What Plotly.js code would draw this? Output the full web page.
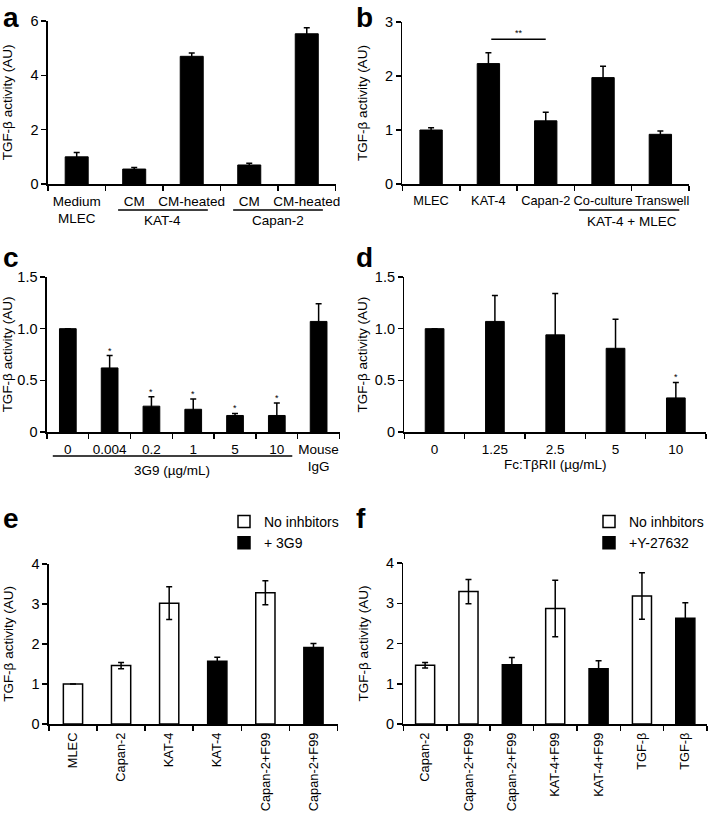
<!DOCTYPE html>
<html>
<head>
<meta charset="utf-8">
<script src="https://cdn.plot.ly/plotly-3.0.1.min.js"></script>
<style>
body { margin: 0; background: white; }
#chart { width: 709px; height: 816px; }
</style>
</head>
<body>
<div id="chart"></div>
<script>
// ---- data ----
// a
let aLabels = ['Medium<br>MLEC', 'CM', 'CM-heated', 'CM', 'CM-heated'];
let aValues = [1.0, 0.55, 4.7, 0.7, 5.53];
let aErrors = [0.16, 0.06, 0.12, 0.06, 0.22];
let aGroups = [['KAT-4', 1, 2], ['Capan-2', 3, 4]];

// b
let bLabels = ['MLEC', 'KAT-4', 'Capan-2', 'Co-culture', '\u00A0Transwell'];
let bValues = [1.0, 2.23, 1.17, 1.97, 0.92];
let bErrors = [0.04, 0.2, 0.16, 0.21, 0.06];
let bGroups = [['KAT-4 + MLEC', 3, 4]];
let bSig = [[1, 2, 2.68, '**']];

// c
let cLabels = ['0', '0.004', '0.2', '1', '5', '10', 'Mouse<br>IgG'];
let cValues = [1.0, 0.62, 0.25, 0.22, 0.16, 0.16, 1.07];
let cErrors = [0, 0.12, 0.09, 0.1, 0.02, 0.12, 0.17];
let cStars = ['', '*', '*', '*', '*', '*', ''];
let cGroups = [['3G9 (µg/mL)', 0, 5]];

// d
let dLabels = ['0', '1.25', '2.5', '5', '10'];
let dValues = [1.0, 1.07, 0.94, 0.81, 0.33];
let dErrors = [0, 0.25, 0.4, 0.28, 0.15];
let dStars = ['', '', '', '', '*'];

// e
let eLabels = ['MLEC', 'Capan-2', 'KAT-4', 'KAT-4', 'Capan-2+F99', 'Capan-2+F99'];
let eValues = [1.0, 1.46, 3.02, 1.57, 3.28, 1.91];
let eErrors = [0, 0.08, 0.41, 0.1, 0.3, 0.1];
let eSeries = ['No inhbitors', 'No inhbitors', 'No inhbitors', '+ 3G9', 'No inhbitors', '+ 3G9'];
let eSig = [[2, 3, 4.06, '*'], [4, 5, 4.06, '*']];

// f
let fLabels = ['Capan-2', 'Capan-2+F99', 'Capan-2+F99', 'KAT-4+F99', 'KAT-4+F99', 'TGF-β', 'TGF-β'];
let fValues = [1.46, 3.29, 1.47, 2.87, 1.37, 3.18, 2.63];
let fErrors = [0.07, 0.3, 0.18, 0.7, 0.2, 0.58, 0.38];
let fSeries = ['No inhbitors', 'No inhbitors', '+Y-27632', 'No inhbitors', '+Y-27632', 'No inhbitors', '+Y-27632'];
let fSig = [[1, 2, 4.06, '*'], [3, 4, 4.06, '*']];

// ---- helpers ----
const W = 709, H = 816;
const FONT = 'Liberation Sans, Arial, sans-serif';
function fx(px) { return px / W; }
function fy(px) { return 1 - px / H; }
function idx(n) { return Array.from({length: n}, (_, i) => i); }
function bounds(n) { return Array.from({length: n + 1}, (_, i) => i - 0.5); }
function sfx(k) { return k === 1 ? '' : String(k); }

let traces = [];
let shapes = [];
let annotations = [];

// panel geometry in pixels; lpos = letter [x, y, anchor]
let panels = [
    {letter: 'a', labels: aLabels, xpx: [48, 336], ypx: [21, 184], ymax: 6, yt: [0, 2, 4, 6], ytt: ['0', '2', '4', '6'], width: 0.4, angle: 0, xfont: 13.5, standoff: 14, lpos: [1, 0, 'top']},
    {letter: 'b', labels: bLabels, xpx: [403, 690], ypx: [22, 184], ymax: 3, yt: [0, 1, 2, 3], ytt: ['0', '1', '2', '3'], width: 0.39, angle: 0, xfont: 12.8, standoff: 14, lpos: [355, 0, 'top']},
    {letter: 'c', labels: cLabels, xpx: [47, 340], ypx: [277, 432], ymax: 1.5, yt: [0, 0.5, 1, 1.5], ytt: ['0', '0.5', '1.0', '1.5'], width: 0.4, angle: 0, xfont: 13.5, standoff: 4, lpos: [1, 257, 'middle']},
    {letter: 'd', labels: dLabels, xpx: [405, 707], ypx: [277, 432], ymax: 1.5, yt: [0, 0.5, 1, 1.5], ytt: ['0', '0.5', '1.0', '1.5'], width: 0.31, angle: 0, xfont: 13.5, standoff: 4, lpos: [355, 257, 'middle']},
    {letter: 'e', labels: eLabels, xpx: [49, 338], ypx: [564, 724], ymax: 4, yt: [0, 1, 2, 3, 4], ytt: ['0', '1', '2', '3', '4'], width: 0.4, angle: -90, xfont: 12.8, standoff: 14, lpos: [1, 518, 'middle']},
    {letter: 'f', labels: fLabels, xpx: [404, 708], ypx: [563, 724], ymax: 4, yt: [0, 1, 2, 3, 4], ytt: ['0', '1', '2', '3', '4'], width: 0.44, angle: -90, xfont: 12.8, standoff: 14, lpos: [355, 518, 'middle']}
];

let layout = {
    width: W, height: H,
    margin: {l: 0, r: 0, t: 0, b: 0},
    paper_bgcolor: 'white', plot_bgcolor: 'white',
    font: {family: FONT, size: 13.5, color: 'black'},
    barmode: 'overlay',
    showlegend: true,
    legend: {x: fx(224), y: fy(506), xanchor: 'left', yanchor: 'top', bgcolor: 'rgba(0,0,0,0)', font: {size: 14}, tracegroupgap: 0},
    legend2: {x: fx(590), y: fy(506), xanchor: 'left', yanchor: 'top', bgcolor: 'rgba(0,0,0,0)', font: {size: 14}, tracegroupgap: 0}
};

panels.forEach(function (p, i) {
    let k = i + 1;
    let n = p.labels.length;
    layout['xaxis' + sfx(k)] = {
        domain: [fx(p.xpx[0]), fx(p.xpx[1])],
        anchor: 'y' + sfx(k),
        range: [-0.5, n - 0.5],
        showgrid: false, zeroline: false,
        showline: true, linecolor: 'black', linewidth: 1.5,
        tickmode: 'array', tickvals: idx(n), ticktext: p.labels,
        ticks: '', tickangle: p.angle, ticklabelstandoff: p.angle ? 2 : 4,
        tickfont: {size: p.xfont},
        minor: {tickmode: 'array', tickvals: bounds(n), ticks: 'outside', ticklen: 5, tickwidth: 1.5, tickcolor: 'black', showgrid: false},
        fixedrange: true
    };
    layout['yaxis' + sfx(k)] = {
        domain: [fy(p.ypx[1]), fy(p.ypx[0])],
        anchor: 'x' + sfx(k),
        range: [0, p.ymax],
        showgrid: false, zeroline: false,
        showline: true, linecolor: 'black', linewidth: 1.5,
        tickmode: 'array', tickvals: p.yt, ticktext: p.ytt,
        ticks: 'outside', ticklen: 5, tickwidth: 1.5, tickcolor: 'black',
        tickfont: {size: 14.5},
        title: {text: 'TGF-β activity (AU)', font: {size: 13.5}, standoff: p.standoff},
        fixedrange: true
    };
    annotations.push({
        xref: 'paper', yref: 'paper', x: fx(p.lpos[0]), y: fy(p.lpos[1]),
        xanchor: 'left', yanchor: p.lpos[2], showarrow: false,
        text: '<b>' + p.letter + '</b>', font: {size: 28, family: FONT}
    });
});

function blackBars(k, values, errors) {
    traces.push({
        type: 'bar', x: idx(values.length), y: values,
        xaxis: 'x' + sfx(k), yaxis: 'y' + sfx(k),
        width: panels[k - 1].width,
        marker: {color: 'black', line: {color: 'black', width: 1}},
        error_y: {type: 'data', array: errors, color: 'black', thickness: 1.5, width: 3},
        showlegend: false, hoverinfo: 'skip'
    });
}

function seriesBars(k, values, errors, series, legend) {
    let names = [...new Set(series)];
    names.forEach(function (name, s) {
        let x = [], y = [], e = [];
        series.forEach(function (sn, i) {
            if (sn === name) { x.push(i); y.push(values[i]); e.push(errors[i]); }
        });
        traces.push({
            type: 'bar', x: x, y: y, name: name, legend: legend,
            xaxis: 'x' + sfx(k), yaxis: 'y' + sfx(k),
            width: panels[k - 1].width,
            marker: {color: s === 0 ? 'white' : 'black', line: {color: 'black', width: 1.5}},
            error_y: {type: 'data', array: e, color: 'black', thickness: 1.5, width: 3},
            hoverinfo: 'skip'
        });
    });
}

function groupLines(k, groups, lineY, textY, padL, padR) {
    groups.forEach(function (g) {
        shapes.push({type: 'line', xref: 'x' + sfx(k), yref: 'paper',
            x0: g[1] - padL, x1: g[2] + padR, y0: fy(lineY), y1: fy(lineY),
            line: {color: 'black', width: 1.5}});
        annotations.push({xref: 'x' + sfx(k), yref: 'paper', x: (g[1] + g[2]) / 2, y: fy(textY),
            yanchor: 'middle', showarrow: false, text: g[0], font: {size: 13.5}});
    });
}

function sigLines(k, sig, padL, padR) {
    sig.forEach(function (s) {
        shapes.push({type: 'line', xref: 'x' + sfx(k), yref: 'y' + sfx(k),
            x0: s[0] + padL, x1: s[1] - padR, y0: s[2], y1: s[2],
            line: {color: 'black', width: 1.5}});
        annotations.push({xref: 'x' + sfx(k), yref: 'y' + sfx(k),
            x: (s[0] + padL + s[1] - padR) / 2, y: s[2], yanchor: 'bottom', yshift: -1,
            showarrow: false, text: s[3], font: {size: 9}});
    });
}

function stars(k, values, errors, marks) {
    marks.forEach(function (m, i) {
        if (!m) return;
        annotations.push({xref: 'x' + sfx(k), yref: 'y' + sfx(k),
            x: i, y: values[i] + errors[i], yanchor: 'bottom', yshift: -2,
            showarrow: false, text: m, font: {size: 9}});
    });
}

blackBars(1, aValues, aErrors);
groupLines(1, aGroups, 210, 221, 0.28, 0.28);

blackBars(2, bValues, bErrors);
groupLines(2, bGroups, 210, 222, 0.42, 0.33);
sigLines(2, bSig, 0.05, 0.0);

blackBars(3, cValues, cErrors);
groupLines(3, cGroups, 456, 471, 0.36, 0.37);
stars(3, cValues, cErrors, cStars);

blackBars(4, dValues, dErrors);
stars(4, dValues, dErrors, dStars);
layout.xaxis4.title = {text: 'Fc:TβRII (µg/mL)', font: {size: 13.5}, standoff: 2};

seriesBars(5, eValues, eErrors, eSeries, 'legend');
sigLines(5, eSig, 0.2, 0.14);

seriesBars(6, fValues, fErrors, fSeries, 'legend2');
sigLines(6, fSig, 0.22, 0.03);

layout.shapes = shapes;
layout.annotations = annotations;

Plotly.newPlot('chart', traces, layout, {staticPlot: true});
</script>
</body>
</html>
